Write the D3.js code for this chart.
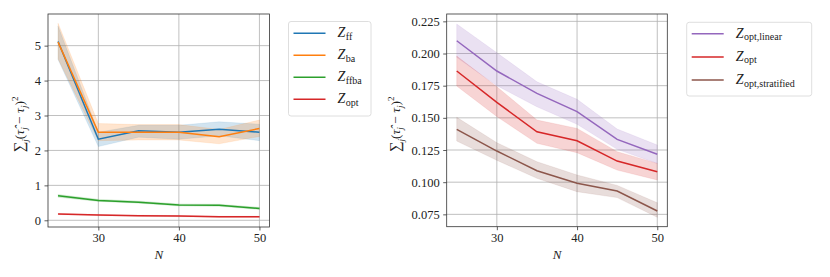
<!DOCTYPE html>
<html><head><meta charset="utf-8">
<script src="https://cdn.jsdelivr.net/npm/d3@7"></script>
<style>body{margin:0;background:#fff}svg{display:block}</style>
</head><body>
<svg id="c" width="830" height="277" font-family="'Liberation Serif', 'DejaVu Serif', serif"></svg>
<script>
const N = [25, 30, 35, 40, 45, 50];
// left panel
const ffMean = [5.12, 2.32, 2.56, 2.52, 2.61, 2.52];
const ffLo   = [4.60, 2.11, 2.38, 2.32, 2.42, 2.28];
const ffHi   = [5.56, 2.52, 2.72, 2.72, 2.82, 2.75];
const baMean = [5.10, 2.52, 2.52, 2.52, 2.39, 2.63];
const baLo   = [4.62, 2.28, 2.30, 2.30, 2.19, 2.40];
const baHi   = [5.64, 2.77, 2.74, 2.74, 2.60, 2.87];
const ffbaMean = [0.70, 0.57, 0.52, 0.44, 0.43, 0.34];
const ffbaLo   = [0.66, 0.54, 0.49, 0.41, 0.40, 0.31];
const ffbaHi   = [0.74, 0.60, 0.55, 0.47, 0.46, 0.37];
const optMean = [0.18, 0.15, 0.13, 0.12, 0.10, 0.10];
const optLo   = [0.165, 0.135, 0.115, 0.105, 0.085, 0.085];
const optHi   = [0.195, 0.165, 0.145, 0.135, 0.115, 0.115];
// right panel
const linMean = [0.2099, 0.1864, 0.1690, 0.1548, 0.1333, 0.1217];
const linLo   = [0.1970, 0.1750, 0.1586, 0.1450, 0.1255, 0.1146];
const linHi   = [0.2229, 0.2006, 0.1780, 0.1644, 0.1413, 0.1289];
const opt2Mean = [0.1864, 0.1620, 0.1392, 0.1322, 0.1164, 0.1081];
const opt2Lo   = [0.1747, 0.1510, 0.1302, 0.1229, 0.1094, 0.1017];
const opt2Hi   = [0.1980, 0.1742, 0.1483, 0.1418, 0.1237, 0.1146];
const stratMean = [0.1410, 0.1242, 0.1089, 0.0991, 0.0931, 0.0776];
const stratLo   = [0.1320, 0.1170, 0.1030, 0.0926, 0.0880, 0.0727];
const stratHi   = [0.1504, 0.1307, 0.1159, 0.1056, 0.0975, 0.0840];

const xTicks = [30, 40, 50];
const yTicksL = [0, 1, 2, 3, 4, 5];
const yTicksR = [0.075, 0.100, 0.125, 0.150, 0.175, 0.200, 0.225];

const leftSeries = [
  {name:"ff", mean:ffMean, lo:ffLo, hi:ffHi, color:"#1f77b4"},
  {name:"ba", mean:baMean, lo:baLo, hi:baHi, color:"#ff7f0e"},
  {name:"ffba", mean:ffbaMean, lo:ffbaLo, hi:ffbaHi, color:"#2ca02c"},
  {name:"opt", mean:optMean, lo:optLo, hi:optHi, color:"#d62728"}
];
const rightSeries = [
  {name:"opt,linear", mean:linMean, lo:linLo, hi:linHi, color:"#9467bd"},
  {name:"opt", mean:opt2Mean, lo:opt2Lo, hi:opt2Hi, color:"#d62728"},
  {name:"opt,stratified", mean:stratMean, lo:stratLo, hi:stratHi, color:"#8c564b"}
];

const FONT = "'Liberation Serif', 'DejaVu Serif', serif";
const svg = d3.select("#c");

function panel(cfg) {
  const x = d3.scaleLinear().domain([23.75, 51.25]).range([cfg.x0, cfg.x1]);
  const y = d3.scaleLinear().domain(cfg.yDom).range([cfg.y1, cfg.y0]);
  const g = svg.append("g");
  g.selectAll(".gx").data(xTicks).enter().append("line")
    .attr("x1", d=>x(d)).attr("x2", d=>x(d)).attr("y1", cfg.y0).attr("y2", cfg.y1)
    .attr("stroke", "#b0b0b0").attr("stroke-width", 0.8);
  g.selectAll(".gy").data(cfg.yTicks).enter().append("line")
    .attr("x1", cfg.x0).attr("x2", cfg.x1).attr("y1", d=>y(d)).attr("y2", d=>y(d))
    .attr("stroke", "#b0b0b0").attr("stroke-width", 0.8);
  const area = d3.area().x((d,i)=>x(N[i])).y0(d=>y(d[0])).y1(d=>y(d[1]));
  const line = d3.line().x((d,i)=>x(N[i])).y(d=>y(d));
  cfg.series.forEach(s => {
    g.append("path").attr("d", area(s.lo.map((v,i)=>[v, s.hi[i]])))
      .attr("fill", s.color).attr("fill-opacity", 0.2).attr("stroke", s.color).attr("stroke-opacity", 0.2).attr("stroke-width", 0.5);
  });
  cfg.series.forEach(s => {
    g.append("path").attr("d", line(s.mean)).attr("fill", "none")
      .attr("stroke", s.color).attr("stroke-width", 1.5);
  });
  const ax = g.append("g").attr("transform", `translate(0,${cfg.y1})`)
    .call(d3.axisBottom(x).tickValues(xTicks).tickSize(3.5).tickPadding(3).tickFormat(d3.format("d")));
  const ay = g.append("g").attr("transform", `translate(${cfg.x0},0)`)
    .call(d3.axisLeft(y).tickValues(cfg.yTicks).tickSize(3.5).tickPadding(3.5).tickFormat(cfg.fmt));
  [ax, ay].forEach(a => {
    a.attr("font-family", FONT);
    a.select(".domain").remove();
    a.selectAll("line").attr("stroke", "#333").attr("stroke-width", 0.8);
    a.selectAll("text").attr("font-size", 12.5).attr("fill", "#222");
  });
  g.append("rect").attr("x", cfg.x0).attr("y", cfg.y0).attr("width", cfg.x1-cfg.x0).attr("height", cfg.y1-cfg.y0)
    .attr("fill", "none").attr("stroke", "#333").attr("stroke-width", 0.8);
  g.append("text").attr("x", (cfg.x0+cfg.x1)/2).attr("y", 259).attr("text-anchor", "middle")
    .attr("font-size", 13).attr("font-style", "italic").attr("fill", "#222").text("N");
  const yl = g.append("text").attr("transform", `translate(${cfg.ylx},${(cfg.y0+cfg.y1)/2 + 4}) rotate(-90)`)
    .attr("text-anchor", "middle").attr("font-size", 13.5).attr("fill", "#222");
  yl.append("tspan").attr("font-size", 15).text("\u2211");
  yl.append("tspan").attr("font-size", 9).attr("font-style", "italic").attr("dy", 4).text("j");
  yl.append("tspan").attr("dy", -4).text("(");
  yl.append("tspan").attr("font-style", "italic").text("\u03c4\u0302");
  yl.append("tspan").attr("font-size", 9).attr("font-style", "italic").attr("dy", 3).text("j");
  yl.append("tspan").attr("dy", -3).text(" \u2212 ");
  yl.append("tspan").attr("font-style", "italic").text("\u03c4");
  yl.append("tspan").attr("font-size", 9).attr("font-style", "italic").attr("dy", 3).text("j");
  yl.append("tspan").attr("dy", -3).text(")");
  yl.append("tspan").attr("font-size", 9).attr("dy", -6).text("2");
  const L = cfg.leg;
  const lg = svg.append("g");
  lg.append("rect").attr("x", L.x).attr("y", L.y).attr("width", L.w).attr("height", L.h)
    .attr("rx", 2.5).attr("fill", "#fff").attr("fill-opacity", 0.8).attr("stroke", "#d5d5d5").attr("stroke-width", 0.8);
  cfg.series.forEach((s, i) => {
    const yy = L.y + L.first + i*L.step;
    lg.append("line").attr("x1", L.x+5).attr("x2", L.x+37).attr("y1", yy).attr("y2", yy)
      .attr("stroke", s.color).attr("stroke-width", 1.5);
    const t = lg.append("text").attr("x", L.x+49).attr("y", yy+4).attr("font-size", 14).attr("fill", "#222");
    t.append("tspan").attr("font-style", "italic").text("Z");
    t.append("tspan").attr("font-size", 10).attr("dy", 2.5).attr("dx", 0.5).text(s.name);
  });
}

panel({x0:48, x1:269.5, y0:14, y1:227, yDom:[-0.192, 5.906], yTicks:yTicksL, fmt:d3.format("d"),
  series:leftSeries, ylx:24, leg:{x:288.5, y:21.5, w:82.5, h:94.5, first:11.8, step:22}});
panel({x0:446.7, x1:667.3, y0:14, y1:226.7, yDom:[0.0654, 0.2307], yTicks:yTicksR, fmt:d3.format(".3f"),
  series:rightSeries, ylx:400, leg:{x:686.7, y:22.3, w:125, h:73.7, first:11.4, step:23.2}});
</script>
</body></html>
